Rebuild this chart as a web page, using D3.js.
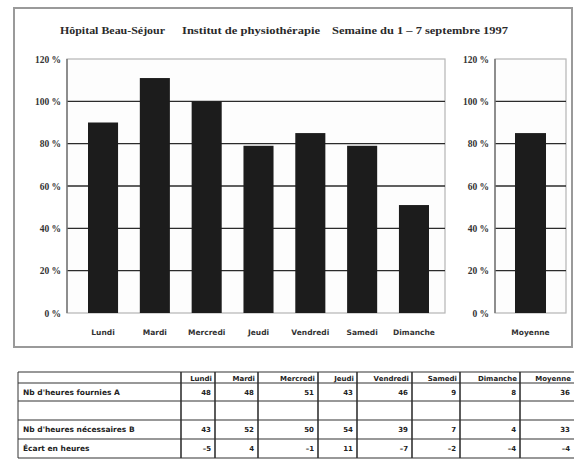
<!DOCTYPE html>
<html>
<head>
<meta charset="utf-8">
<script src="https://cdn.jsdelivr.net/npm/d3@7"></script>
<style>
  body { margin: 0; background: #fff; }
  svg { display: block; }
</style>
</head>
<body>
<div id="chart"></div>
<script>
const days = ['Lundi', 'Mardi', 'Mercredi', 'Jeudi', 'Vendredi', 'Samedi', 'Dimanche'];
const taux = [90, 111, 100, 79, 85, 79, 51];
const moyenneLabel = ['Moyenne'];
const moyenne = [85];
const yTicks = [0, 20, 40, 60, 80, 100, 120];
const titres = ['Hôpital Beau-Séjour', 'Institut de physiothérapie', 'Semaine du 1 – 7 septembre 1997'];

const colonnes = ['Lundi', 'Mardi', 'Mercredi', 'Jeudi', 'Vendredi', 'Samedi', 'Dimanche', 'Moyenne'];
const rowLabels = ["Nb d'heures fournies A", '', "Nb d'heures nécessaires B", 'Écart en heures'];
const heuresA = [48, 48, 51, 43, 46, 9, 8, 36];
const heuresB = [43, 52, 50, 54, 39, 7, 4, 33];
const ecart = [-5, 4, -1, 11, -7, -2, -4, -4];

const width = 574, height = 464;
const svg = d3.select('#chart').append('svg')
  .attr('width', width).attr('height', height);

const serif = 'Liberation Serif, serif';
const sans = 'DejaVu Sans, sans-serif';

// outer frame
svg.append('rect')
  .attr('x', 14).attr('y', 8).attr('width', 558).attr('height', 339)
  .attr('fill', 'none').attr('stroke', '#9a9a9a').attr('stroke-width', 2);

// title, three parts
const titleX = [60, 182, 332];
const titleW = [105, 138, 176];
svg.selectAll('text.title')
  .data(titres)
  .join('text')
  .attr('x', (d, i) => titleX[i]).attr('y', 34)
  .attr('font-family', serif).attr('font-size', 11).attr('font-weight', 'bold').attr('fill', '#2a2a2a')
  .attr('textLength', (d, i) => titleW[i]).attr('lengthAdjust', 'spacingAndGlyphs')
  .text(d => d);

const y = d3.scaleLinear().domain([0, 120]).range([313, 59]);

function panel(x0, x1, labelX) {
  const g = svg.append('g');
  g.append('rect')
    .attr('x', x0).attr('y', y(120)).attr('width', x1 - x0).attr('height', y(0) - y(120))
    .attr('fill', '#fdfdfd').attr('stroke', '#b5b5b5').attr('stroke-width', 1.2);

  g.selectAll('line.grid')
    .data(yTicks.filter(t => t > 0 && t < 120))
    .join('line')
    .attr('x1', x0).attr('x2', x1)
    .attr('y1', d => y(d)).attr('y2', d => y(d))
    .attr('stroke', '#2b2b2b').attr('stroke-width', 1.4);

  g.append('line')
    .attr('x1', x0).attr('x2', x0).attr('y1', y(120)).attr('y2', y(0))
    .attr('stroke', '#777').attr('stroke-width', 1.5);

  g.selectAll('text.tick')
    .data(yTicks)
    .join('text')
    .attr('x', labelX).attr('y', d => y(d) + 3.5)
    .attr('text-anchor', 'end')
    .attr('font-family', serif).attr('font-size', 9.5).attr('font-weight', 'bold').attr('fill', '#333')
    .text(d => d + ' %');

  return g;
}

// main panel
const gMain = panel(67, 445, 61);
const x = d3.scaleBand().domain(days).range([88, 429]).paddingInner(0.42).paddingOuter(0);
gMain.selectAll('rect.bar')
  .data(days)
  .join('rect')
  .attr('x', d => x(d)).attr('width', x.bandwidth())
  .attr('y', (d, i) => y(taux[i])).attr('height', (d, i) => y(0) - y(taux[i]))
  .attr('fill', '#1c1c1c');
gMain.selectAll('text.xl')
  .data(days)
  .join('text')
  .attr('x', d => x(d) + x.bandwidth() / 2).attr('y', 335)
  .attr('text-anchor', 'middle')
  .attr('font-family', sans).attr('font-size', 7.5).attr('font-weight', 'bold').attr('fill', '#333')
  .text(d => d);

// right panel
const gMoy = panel(495, 566, 489);
const x2 = d3.scaleBand().domain(moyenneLabel).range([495, 566]).paddingInner(0).paddingOuter(0.645);
gMoy.selectAll('rect.bar')
  .data(moyenneLabel)
  .join('rect')
  .attr('x', d => x2(d)).attr('width', x2.bandwidth())
  .attr('y', (d, i) => y(moyenne[i])).attr('height', (d, i) => y(0) - y(moyenne[i]))
  .attr('fill', '#1c1c1c');
gMoy.selectAll('text.xl')
  .data(moyenneLabel)
  .join('text')
  .attr('x', d => x2(d) + x2.bandwidth() / 2).attr('y', 335)
  .attr('text-anchor', 'middle')
  .attr('font-family', sans).attr('font-size', 7.5).attr('font-weight', 'bold').attr('fill', '#333')
  .text(d => d);

// table
const colEdges = [18, 181, 215, 258, 318, 357, 412, 460, 520, 574];
const rowEdges = [372, 383, 401, 420, 439, 458];
const tableRows = [heuresA, null, heuresB, ecart];
const t = svg.append('g');
const lineCol = '#333';

t.selectAll('line.h')
  .data(rowEdges)
  .join('line')
  .attr('x1', colEdges[0]).attr('x2', width)
  .attr('y1', d => d).attr('y2', d => d)
  .attr('stroke', lineCol).attr('stroke-width', 1.2);

t.selectAll('line.v')
  .data(colEdges.slice(0, -1))
  .join('line')
  .attr('x1', d => d).attr('x2', d => d)
  .attr('y1', rowEdges[0]).attr('y2', rowEdges[rowEdges.length - 1])
  .attr('stroke', lineCol).attr('stroke-width', (d, i) => i === 0 ? 1 : 1.6);

t.selectAll('text.head')
  .data(colonnes)
  .join('text')
  .attr('x', (d, i) => colEdges[i + 2] - 3).attr('y', 380.5)
  .attr('text-anchor', 'end')
  .attr('font-family', sans).attr('font-size', 7).attr('font-weight', 'bold').attr('fill', '#222')
  .text(d => d);

rowLabels.forEach((lab, r) => {
  const cy = (rowEdges[r + 1] + rowEdges[r + 2]) / 2 + 2.5;
  t.append('text')
    .attr('x', 23).attr('y', cy)
    .attr('font-family', sans).attr('font-size', 7.5).attr('font-weight', 'bold').attr('fill', '#222')
    .text(lab);
  const vals = tableRows[r];
  if (!vals) return;
  t.selectAll(null)
    .data(vals)
    .join('text')
    .attr('x', (d, i) => colEdges[i + 2] - 4).attr('y', cy)
    .attr('text-anchor', 'end')
    .attr('font-family', sans).attr('font-size', 7).attr('font-weight', 'bold').attr('fill', '#222')
    .text(d => d < 0 ? '–' + Math.abs(d) : d);
});
</script>
</body>
</html>
